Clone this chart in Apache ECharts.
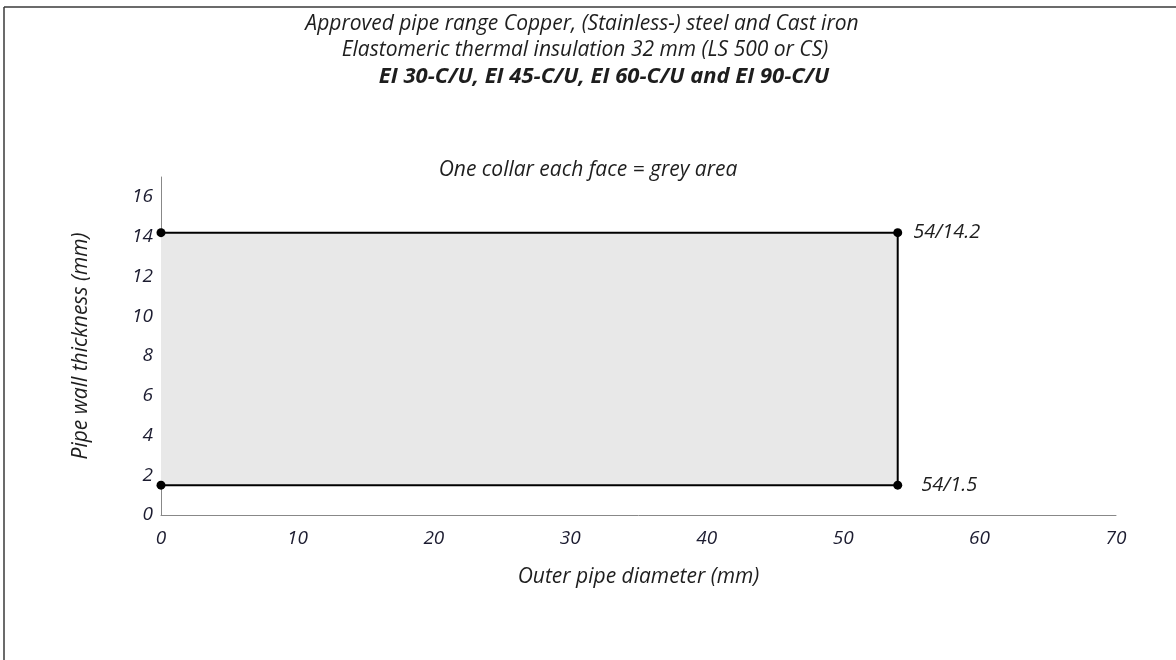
<!DOCTYPE html>
<html>
<head>
<meta charset="utf-8">
<script src="https://cdn.jsdelivr.net/npm/echarts@6/dist/echarts.min.js"></script>
<style>
html,body{margin:0;padding:0;background:#fff;}
#chart{width:1176px;height:660px;}
</style>
</head>
<body>
<div id="chart"></div>
<script>
// ---- data ----
const titleLines = [
  'Approved pipe range Copper, (Stainless-) steel and Cast iron',
  'Elastomeric thermal insulation 32 mm (LS 500 or CS)',
  'EI 30-C/U, EI 45-C/U, EI 60-C/U and EI 90-C/U',
  'One collar each face = grey area'
];
const xAxisName = 'Outer pipe diameter (mm)';
const yAxisName = 'Pipe wall thickness (mm)';
const xRange = [0, 70];
const xStep = 10;
const yRange = [0, 17];
const yStep = 2;
const cornerX = [0, 54, 54, 0];
const cornerY = [14.2, 14.2, 1.5, 1.5];
const cornerLabels = ['', '54/14.2', '54/1.5', ''];

// ---- chart ----
const FONT = '"Open Sans", "Noto Sans", sans-serif';
const chart = echarts.init(document.getElementById('chart'), null, {renderer: 'canvas'});
const pts = cornerX.map((x, i) => ({
  value: [x, cornerY[i]],
  label: {show: cornerLabels[i] !== '', distance: i === 1 ? 11 : 19}
}));
const tStyle = (w, s) => ({fontFamily: FONT, fontStyle: 'italic', fontWeight: w, fontSize: s, color: '#1e1e1e'});
const option = {
  backgroundColor: '#fff',
  animation: false,
  title: [
    {text: titleLines[0], left: 577, top: 9, textAlign: 'center', textStyle: tStyle('normal', 21)},
    {text: titleLines[1], left: 580, top: 35, textAlign: 'center', textStyle: tStyle('normal', 21)},
    {text: titleLines[2], left: 599, top: 61, textAlign: 'center', textStyle: tStyle('bold', 22)},
    {text: titleLines[3], left: 583, top: 155, textAlign: 'center', textStyle: tStyle('normal', 21)}
  ],
  graphic: [
    {type: 'line', shape: {x1: 4, y1: 7, x2: 1176, y2: 7}, style: {stroke: '#3a3a3a', lineWidth: 1.5}},
    {type: 'line', shape: {x1: 4, y1: 7, x2: 4, y2: 660}, style: {stroke: '#3a3a3a', lineWidth: 1.5}}
  ],
  grid: {left: 161, right: 60, top: 177, bottom: 145, containLabel: false},
  xAxis: {
    type: 'value', min: xRange[0], max: xRange[1], interval: xStep,
    name: xAxisName, nameLocation: 'middle', nameGap: 52,
    nameTextStyle: tStyle('normal', 21),
    axisLine: {show: true, lineStyle: {color: '#888', width: 1}},
    axisTick: {show: false},
    splitLine: {show: false},
    axisLabel: {fontFamily: FONT, fontStyle: 'italic', fontSize: 19, color: '#1c1c30', margin: 14}
  },
  yAxis: {
    type: 'value', min: yRange[0], max: yRange[1], interval: yStep,
    name: yAxisName, nameLocation: 'middle', nameGap: 69, nameRotate: 90,
    nameTextStyle: tStyle('normal', 21),
    axisLine: {show: true, lineStyle: {color: '#888', width: 1}},
    axisTick: {show: false},
    splitLine: {show: false},
    axisLabel: {fontFamily: FONT, fontStyle: 'italic', fontSize: 19, color: '#1c1c30', margin: 8, showMaxLabel: false}
  },
  series: [{
    type: 'line',
    data: pts,
    symbol: 'circle',
    symbolSize: 9,
    itemStyle: {color: '#000'},
    lineStyle: {color: '#000', width: 2},
    label: {position: 'right', fontFamily: FONT, fontStyle: 'italic', fontSize: 20, color: '#1e1e1e',
      formatter: p => cornerLabels[p.dataIndex]},
    markArea: {
      silent: true,
      itemStyle: {color: '#e8e8e8'},
      data: [[{coord: [cornerX[0], cornerY[2]]}, {coord: [cornerX[1], cornerY[0]]}]]
    },
    z: 3
  }]
};
chart.setOption(option);
</script>
</body>
</html>
